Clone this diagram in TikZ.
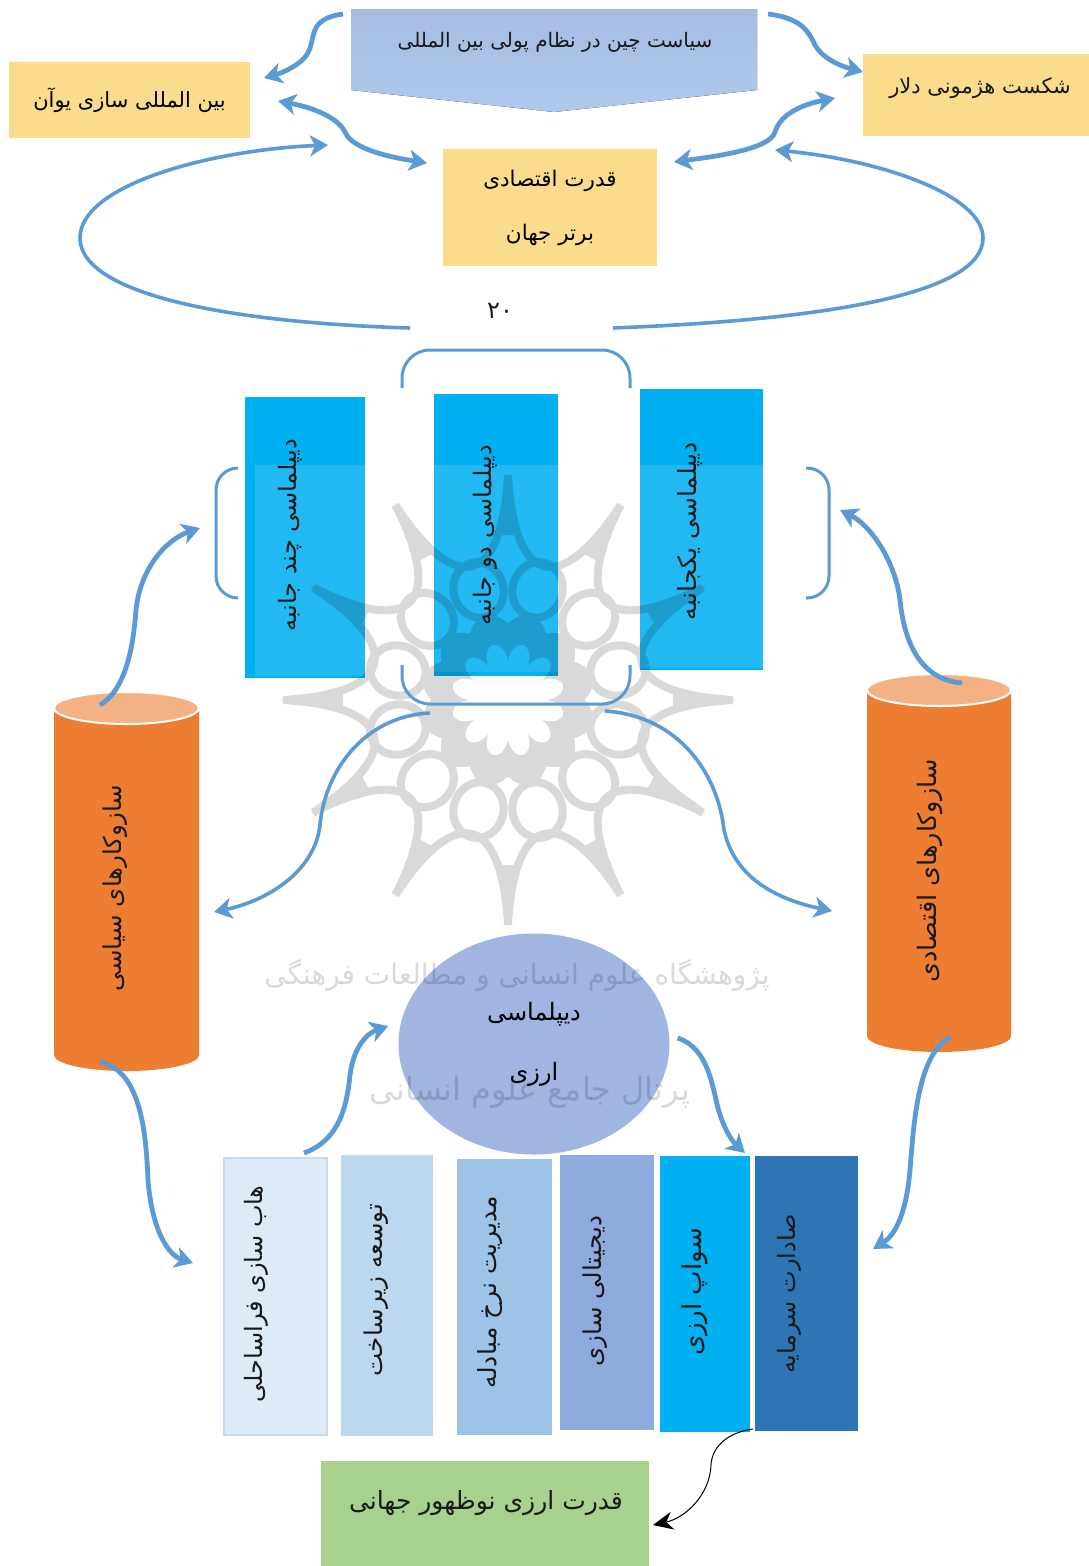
\documentclass[tikz,border=0pt]{standalone}
\usepackage{fontspec}
\usetikzlibrary{arrows.meta,shapes.geometric}
\TeXXeTstate=1
\newfontfamily\arabicfont[Script=Arabic]{DejaVu Sans}
\newcommand{\fa}[1]{{\arabicfont\beginR #1\endR}}
\newcommand{\fs}[1]{\fontsize{#1}{#1}\selectfont}
\definecolor{conn}{HTML}{5B9BD5}
\definecolor{yel}{HTML}{FBDC8D}
\definecolor{sky}{HTML}{00B0F0}
\definecolor{skylt}{HTML}{22B9F2}
\definecolor{org}{HTML}{ED7D31}
\definecolor{orglt}{HTML}{F4B183}
\definecolor{poltop}{HTML}{A6BCE2}
\definecolor{polbot}{HTML}{B0C9EC}
\definecolor{dipc}{HTML}{A0B6E1}
\definecolor{hubc}{HTML}{DEEBF7}
\definecolor{hubb}{HTML}{C5DAF0}
\definecolor{infc}{HTML}{BDD7EE}
\definecolor{ratc}{HTML}{9DC3E6}
\definecolor{digc}{HTML}{8FAADC}
\definecolor{expc}{HTML}{2E75B6}
\definecolor{resc}{HTML}{A9D18E}
\tikzset{
  box/.style={rectangle,inner sep=0pt,outer sep=0pt},
  lab/.style={inner sep=0pt,outer sep=0pt,text=black!90},
  sz/.style 2 args={minimum width=#1,minimum height=#2},
  arr/.style={draw=conn,line width=3.6pt,-{Stealth[length=18pt,width=21pt,inset=5pt]}},
  arrb/.style={draw=conn,line width=4.8pt,-{Stealth[length=18pt,width=21pt,inset=5pt]}},
  dbl/.style={draw=conn,line width=4.8pt,{Stealth[length=18pt,width=21pt,inset=5pt]}-{Stealth[length=18pt,width=21pt,inset=5pt]}},
  brk/.style={draw=conn,line width=3pt,rounded corners=22pt},
  wm/.style={draw=black,line width=8pt},
}
\begin{document}
\begin{tikzpicture}[x=1pt,y=-1pt]
\useasboundingbox (0,0) rectangle (1089,1566);
\fill[white] (0,0) rectangle (1089,1566);

% top row
\fill[top color=poltop,bottom color=polbot] (351,9) -- (757,9) -- (757,90) -- (554,112) -- (351,90) -- cycle;
\node[box,sz={406pt}{103pt}] (policy) at (554,60.5) {};
\node[lab,font=\fs{20}] (policyT) at (555,42) {\fa{سیاست چین در نظام پولی بین المللی}};
\node[box,fill=yel,sz={241pt}{76pt},font=\fs{21}] (yuan) at (129.5,100) {\fa{بین المللی سازی یوآن}};
\node[box,fill=yel,sz={226pt}{82pt}] (dollar) at (976,95) {};
\node[lab,font=\fs{21}] (dollarT) at (980,88) {\fa{شکست هژمونی دلار}};
\node[box,fill=yel,sz={214pt}{117pt},align=center,font=\fontsize{21.5}{54}\selectfont] (power) at (550,207.5) {\fa{قدرت اقتصادی}\\\fa{برتر جهان}};
\node[lab,font=\fs{24}\arabicfont] (pagenum) at (500,311) {۲۰};

% diplomacy boxes
\node[box,fill=sky,sz={120pt}{281pt}] (multi) at (305,537.5) {};
\node[box,fill=sky,sz={124pt}{282pt}] (bi) at (496,535) {};
\node[box,fill=sky,sz={123pt}{281pt}] (uni) at (701.5,529.5) {};
\fill[skylt] (255,465) rectangle (365,676);
\fill[skylt] (434,465) rectangle (558,672);
\fill[skylt] (640,465) rectangle (763,668);
\node[lab,rotate=90,font=\fs{24}] (multiT) at (290,535) {\fa{دیپلماسی چند جانبه}};
\node[lab,rotate=90,font=\fs{24}] (biT) at (485,535) {\fa{دیپلماسی دو جانبه}};
\node[lab,rotate=90,font=\fs{25}] (uniT) at (690,531) {\fa{دیپلماسی یکجانبه}};

% cylinders
\fill[org] (54,708) -- (54,1055) arc [start angle=180,end angle=0,x radius=72.5,y radius=16] -- (199,708) -- cycle;
\node[box,sz={145pt}{379pt}] (cylL) at (126.5,881.5) {};
\node[ellipse,inner sep=0pt,fill=orglt,draw=white,line width=2pt,sz={145pt}{32pt}] (cylLtop) at (126.5,708) {};
\node[lab,rotate=90,font=\fs{24.5}] (cylLT) at (115,888) {\fa{سازوکارهای سیاسی}};
\fill[org] (867,690) -- (867,1036) arc [start angle=180,end angle=0,x radius=72,y radius=16] -- (1011,690) -- cycle;
\node[box,sz={144pt}{378pt}] (cylR) at (939,863) {};
\node[ellipse,inner sep=0pt,fill=orglt,draw=white,line width=2pt,sz={144pt}{32pt}] (cylRtop) at (939,690) {};
\node[lab,rotate=90,font=\fs{25.5}] (cylRT) at (930,871) {\fa{سازوکارهای اقتصادی}};

% currency diplomacy and its tools
\node[ellipse,inner sep=0pt,fill=dipc,sz={271pt}{221pt},align=center,font=\fontsize{24}{60}\selectfont] (dip) at (534,1044) {\fa{دیپلماسی}\\\fa{ارزی}};
\node[box,fill=hubc,draw=hubb,line width=1.5pt,sz={103pt}{277pt}] (hub) at (275.5,1296.5) {};
\node[box,fill=infc,sz={92pt}{281pt}] (infra) at (387,1295.5) {};
\node[box,fill=ratc,sz={95pt}{276pt}] (rate) at (504.5,1297) {};
\node[box,fill=digc,sz={94pt}{275pt}] (digi) at (607,1292.5) {};
\node[box,fill=sky,sz={90pt}{276pt}] (swap) at (705,1294) {};
\node[box,fill=expc,sz={103pt}{275pt}] (export) at (806.5,1293.5) {};
\node[lab,rotate=90,font=\fs{24}] (hubT) at (256,1294) {\fa{هاب سازی فراساحلی}};
\node[lab,rotate=90,font=\fs{24.5}] (infraT) at (376,1290) {\fa{توسعه زیرساخت}};
\node[lab,rotate=90,font=\fs{25}] (rateT) at (490,1292) {\fa{مدیریت نرخ مبادله}};
\node[lab,rotate=90,font=\fs{24.5}] (digiT) at (595,1291) {\fa{دیجیتالی سازی}};
\node[lab,rotate=90,font=\fs{26}] (swapT) at (695,1292) {\fa{سواپ ارزی}};
\node[lab,rotate=90,font=\fs{24}] (exportT) at (789,1294) {\fa{صادارت سرمایه}};
\node[box,fill=resc,sz={328pt}{105pt}] (result) at (485,1513.5) {};
\node[lab,font=\fs{25}] (resultT) at (486,1503) {\fa{قدرت ارزی نوظهور جهانی}};

% watermark
\begin{scope}[transparency group,opacity=.15,shift={(508,700)}]
\foreach \a in {0,30,...,330}{
  \draw[wm] (\a:225) .. controls (\a+3:115) and (\a+27:115) .. (\a+30:225);
  \fill[black] (\a:228) -- (\a+3:165) -- (\a-3:165) -- cycle;
  \draw[wm,shift={(\a+15:114)},rotate={-(\a+15)}] (0,0) ellipse (28 and 25);
  \filldraw[black,line width=.8pt] (\a:42) .. controls (\a+6:64) and (\a+24:64) .. (\a+30:42)
    -- (\a+30:76) .. controls (\a+20:92) and (\a+10:92) .. (\a:76) -- cycle;
}
\end{scope}
\node[lab,text=black,opacity=.15,font=\fs{28}] (wmA) at (517,975) {\fa{پژوهشگاه علوم انسانی و مطالعات فرهنگی}};
\node[lab,text=black,opacity=.15,font=\fs{32}] (wmB) at (530,1092) {\fa{پرتال جامع علوم انسانی}};

% brackets
\draw[brk,rounded corners=28pt] (402,388) -- (402,350) -- (630,350) -- (630,388);
\draw[brk,rounded corners=28pt] (402,665) -- (402,704) -- (630,704) -- (630,665);
\draw[brk] (238,468) -- (216,468) -- (216,598) -- (238,598);
\draw[brk] (806,468) -- (829,468) -- (829,598) -- (806,598);

% connectors
\draw[arrb] ([shift={(-8,5)}]policy.north west) .. controls (300,20) and (322,45) .. (300,62) .. controls (290,70) and (278,74) .. ([shift={(14,16)}]yuan.north east);
\draw[arrb] ([shift={(11,5)}]policy.north east) .. controls (800,18) and (808,30) .. (815,45) .. controls (822,58) and (840,66) .. ([shift={(0,18)}]dollar.north west);
\draw[dbl] ([shift={(28,1)}]yuan.east) .. controls (315,108) and (338,118) .. (345,132) .. controls (352,150) and (395,158) .. ([shift={(-16,14)}]power.north west);
\draw[dbl] ([shift={(-28,3)}]dollar.west) .. controls (800,105) and (780,115) .. (775,132) .. controls (770,150) and (710,157) .. ([shift={(17,13)}]power.north east);
\draw[arr] ([shift={(-140,62)}]power.south) .. controls (210,322) and (80,290) .. (80,238) .. controls (80,185) and (210,150) .. ([shift={(-115,-4)}]power.north west);
\draw[arr] ([shift={(63,62)}]power.south) .. controls (820,320) and (983,295) .. (983,238) .. controls (983,195) and (880,160) .. ([shift={(118,1)}]power.north east);
\draw[arrb] ([shift={(-26.5,13)}]cylL.north) .. controls (125,690) and (133,650) .. (136,610) .. controls (140,570) and (165,540) .. ([shift={(-45,-9.5)}]multi.west);
\draw[arrb] ([shift={(23,9)}]cylR.north) .. controls (925,680) and (905,650) .. (900,600) .. controls (895,560) and (870,525) .. ([shift={(77,-19.5)}]uni.east);
\draw[arr] ([shift={(-66,37)}]bi.south) .. controls (365,716) and (325,770) .. (320,825) .. controls (315,870) and (270,900) .. ([shift={(15,30.5)}]cylL.east);
\draw[arr] ([shift={(109,35)}]bi.south) .. controls (680,716) and (718,775) .. (724,830) .. controls (735,880) and (780,900) .. ([shift={(-35,48)}]cylR.west);
\draw[arrb] ([shift={(-26.5,-9)}]cylL.south) .. controls (140,1070) and (146,1130) .. (148,1180) .. controls (152,1230) and (168,1255) .. ([shift={(-31,-33.5)}]hub.west);
\draw[arrb] ([shift={(11,-15)}]cylR.south) .. controls (918,1055) and (914,1120) .. (910,1170) .. controls (906,1215) and (895,1235) .. ([shift={(15,-44.5)}]export.east);
\draw[arrb] ([shift={(28.5,-5)}]hub.north) .. controls (340,1140) and (347,1105) .. (350,1075) .. controls (354,1045) and (368,1033) .. ([shift={(-10,-18)}]dip.west);
\draw[arrb] ([shift={(8,-6)}]dip.east) .. controls (708,1048) and (712,1085) .. (718,1108) .. controls (724,1130) and (733,1142) .. ([shift={(40,-3)}]swap.north);
\draw[black,line width=1pt,-{Stealth[length=20pt,width=18pt]}] ([shift={(3,-3)}]swap.south east) .. controls (730,1432) and (712,1445) .. (711,1465) .. controls (710,1495) and (685,1518) .. ([shift={(4,11.5)}]result.east);
\end{tikzpicture}
\end{document}
